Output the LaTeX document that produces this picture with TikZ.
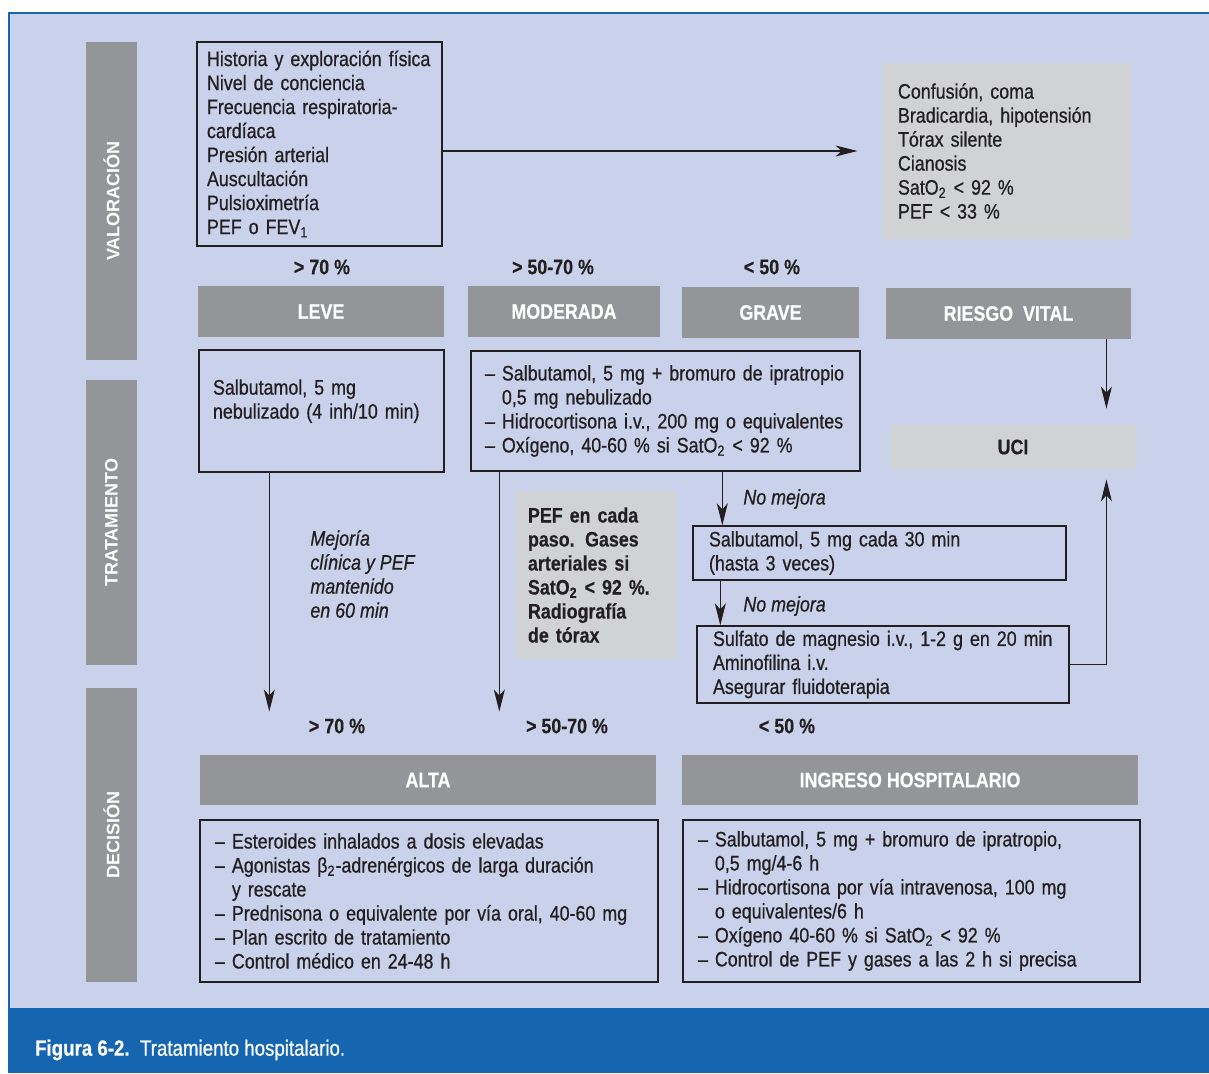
\documentclass[tikz,border=0pt]{standalone}
\usepackage{fontspec}
\setmainfont{Liberation Sans}[FakeStretch=0.85,
  UprightFeatures={FakeBold=0.7}, ItalicFeatures={FakeBold=0.7},
  BoldFeatures={FakeBold=0.4}]
\newfontfamily\sidefont{Liberation Sans}
\usetikzlibrary{arrows.meta,positioning,calc}
\definecolor{panelblue}{RGB}{201,210,234}
\definecolor{bandblue}{RGB}{21,101,176}
\definecolor{bargrey}{RGB}{147,149,152}
\definecolor{notegrey}{RGB}{209,210,212}
\definecolor{inkgrey}{RGB}{35,31,32}
\newcommand{\diagsize}{\fontsize{10.5}{12}\selectfont}
\newcommand{\dsh}{\textendash\ }
\newcommand{\dshgap}{\phantom{\textendash\ }}

\begin{document}
\begin{tikzpicture}[x=0.5pt, y=-0.5pt,
  every node/.style={font=\diagsize, text=inkgrey},
  listbox/.style={draw=inkgrey, line width=0.7pt, align=left, inner xsep=7pt, inner ysep=0pt},
  notebox/.style={fill=notegrey, align=left, inner xsep=8pt, inner ysep=0pt},
  greybar/.style={fill=bargrey, text=white, font=\diagsize\bfseries, minimum height=25.5pt, inner sep=0pt},
  sidebar/.style={fill=bargrey, text=white, font=\sidefont\bfseries\fontsize{9}{10}\selectfont, rotate=90, minimum height=25.5pt, inner sep=0pt},
  pct/.style={font=\diagsize\bfseries},
  note/.style={font=\diagsize\itshape, align=left, inner sep=0pt},
  arr/.style={-{Stealth[length=11pt,width=5.5pt,inset=3pt]}, line width=0.65pt, draw=inkgrey}]
  \useasboundingbox (0,0) rectangle (1209,1073);
  % background and caption band
  \fill[white] (0,0) rectangle (1209,1073);
  \fill[panelblue] (8,12) rectangle (1209,1008);
  \draw[bandblue, line width=1.2pt] (9,1008) -- (9,13) -- (1209,13);
  \fill[bandblue] (8,1008) rectangle (1209,1073);
  \node[anchor=west, text=white, font=\fontsize{11}{13}\selectfont] (caption) at (28,1050) {\textbf{Figura 6-2.}\ \ Tratamiento hospitalario.};

  % side bars
  \node[sidebar, minimum width=159pt] (valor) at (111.5,201) {VALORACIÓN};
  \node[sidebar, minimum width=142.5pt] (trat) at (111.5,522.5) {TRATAMIENTO};
  \node[sidebar, minimum width=147pt] (decis) at (111.5,835) {DECISIÓN};

  % valoracion
  \node[listbox, inner xsep=5pt, text width=112.5pt, minimum height=102pt] (hist) at (319.5,144) {Historia y exploración física\\Nivel de conciencia\\Frecuencia respiratoria-\\cardíaca\\Presión arterial\\Auscultación\\Pulsioximetría\\PEF o FEV\textsubscript{1}};
  \node[notebox, text width=108pt, minimum height=88pt] (signs) at (1006,151) {Confusión, coma\\Bradicardia, hipotensión\\Tórax silente\\Cianosis\\SatO\textsubscript{2} < 92 \%\\PEF < 33 \%};
  \draw[arr, shorten >=12pt] (hist.east |- signs.west) -- (signs.west);

  \node[pct] (p70) at (322,267) {> 70 \%};
  \node[pct] (p5070) at (553,267) {> 50-70 \%};
  \node[pct] (p50) at (772,267) {< 50 \%};

  \node[greybar, minimum width=123pt] (leve) at (321,311.5) {LEVE};
  \node[greybar, minimum width=96pt] (moder) at (564,311.5) {MODERADA};
  \node[greybar, minimum width=88.5pt] (grave) at (770.5,312.5) {GRAVE};
  \node[greybar, minimum width=122.5pt] (riesgo) at (1008.5,313.5) {RIESGO\ \ VITAL};

  % tratamiento
  \node[listbox, text width=108.5pt, minimum height=61pt] (tleve) at (321.5,411) {Salbutamol, 5 mg\\nebulizado (4 inh/10 min)\\ \mbox{}};
  \node[listbox, text width=180.5pt, minimum height=60pt] (tmod) at (665.5,411) {\dsh Salbutamol, 5 mg + bromuro de ipratropio\\\dshgap 0,5 mg nebulizado\\\dsh Hidrocortisona i.v., 200 mg o equivalentes\\\dsh Oxígeno, 40-60 \% si SatO\textsubscript{2} < 92 \%};
  \node[notebox, minimum width=123pt, minimum height=22pt, font=\diagsize\bfseries] (uci) at (1013,447) {UCI};
  \coordinate (drop) at ($(riesgo.south east)+(-25,0)$);
  \draw[arr, shorten >=8pt] (drop) -- (drop |- uci.north);

  \node[listbox, inner xsep=8pt, text width=170.5pt, minimum height=27pt] (s30) at (879.5,553) {Salbutamol, 5 mg cada 30 min\\(hasta 3 veces)};
  \node[listbox, inner xsep=8pt, text width=170pt, minimum height=38.5pt] (mag) at (883,664.5) {Sulfato de magnesio i.v., 1-2 g en 20 min\\Aminofilina i.v.\\Asegurar fluidoterapia};
  \coordinate (m1) at ($(s30.north west)+(30,0)$);
  \draw[arr] (m1 |- tmod.south) -- (m1);
  \node[note, anchor=west] (nm1) at (743,499) {No mejora};
  \coordinate (m2) at ($(mag.north west)+(24,0)$);
  \draw[arr] (m2 |- s30.south) -- (m2);
  \node[note, anchor=west] (nm2) at (743,606) {No mejora};
  \draw[arr, shorten >=5pt] (mag.east) -| (drop |- uci.south);

  \node[note, anchor=west] (mejor) at (310,574) {Mejoría\\clínica y PEF\\mantenido\\en 60 min};
  \node[notebox, inner xsep=6pt, text width=68pt, minimum height=84pt, font=\diagsize\bfseries] (pef) at (596,575) {PEF en cada\\paso. Gases\\arteriales si\\SatO\textsubscript{2} < 92 \%.\\Radiografía\\de tórax};

  % decision
  \node[pct] (q70) at (337,726) {> 70 \%};
  \node[pct] (q5070) at (567,726) {> 50-70 \%};
  \node[pct] (q50) at (787,726) {< 50 \%};
  \coordinate (l1) at ($(tleve.south west)+(71,0)$);
  \draw[arr] (l1) -- (l1 |- q70.north);
  \coordinate (l2) at ($(tmod.south west)+(29,0)$);
  \draw[arr] (l2) -- (l2 |- q5070.north);

  \node[greybar, minimum width=228pt, minimum height=25pt] (alta) at (428,780) {ALTA};
  \node[greybar, minimum width=228pt, minimum height=25pt] (ingreso) at (910,780) {INGRESO HOSPITALARIO};

  \node[listbox, inner xsep=7.5pt, text width=214pt, minimum height=81pt] (altalist) at (429,901) {\dsh Esteroides inhalados a dosis elevadas\\\dsh Agonistas β\textsubscript{2}-adrenérgicos de larga duración\\\dshgap y rescate\\\dsh Prednisona o equivalente por vía oral, 40-60 mg\\\dsh Plan escrito de tratamiento\\\dsh Control médico en 24-48 h};
  \node[listbox, inner xsep=7.5pt, text width=213.5pt, minimum height=81pt] (ingresolist) at (911.5,901) {\dsh Salbutamol, 5 mg + bromuro de ipratropio,\\\dshgap 0,5 mg/4-6 h\\\dsh Hidrocortisona por vía intravenosa, 100 mg\\\dshgap o equivalentes/6 h\\\dsh Oxígeno 40-60 \% si SatO\textsubscript{2} < 92 \%\\\dsh Control de PEF y gases a las 2 h si precisa};
\end{tikzpicture}
\end{document}
